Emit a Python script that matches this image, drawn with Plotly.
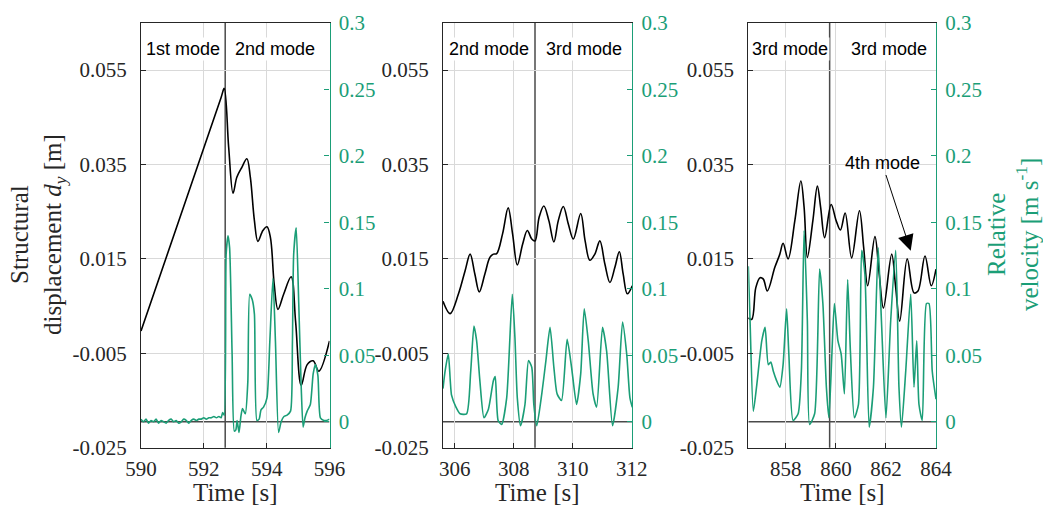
import plotly.graph_objects as go

# ---------------- data ----------------
# Panel 1 (590-596 s)
p1_disp_t = [590.00, 592.55, 592.65, 592.79, 592.93, 593.05, 593.21, 593.37, 593.48, 593.61, 593.72,
             593.88, 594.01, 594.12, 594.24, 594.36, 594.54, 594.78, 594.92, 595.10, 595.29,
             595.48, 595.66, 596.00]
p1_disp = [-0.0003, 0.0492, 0.0511, 0.0387, 0.0289, 0.0323, 0.0344, 0.0362, 0.0323, 0.0231, 0.0187,
           0.0210, 0.0218, 0.0195, 0.0096, 0.0043, 0.0075, 0.0112, 0.0018, -0.0118, -0.0074,
           -0.0066, -0.0088, -0.0024]
p1_vel_t = [590.00, 590.08, 590.16, 590.24, 590.32, 590.40, 590.48, 590.56, 590.64, 590.72,
            590.80, 590.88, 590.96, 591.04, 591.12, 591.20, 591.28, 591.36, 591.44, 591.52,
            591.60, 591.68, 591.76, 591.84, 591.92, 592.00, 592.08, 592.16, 592.24, 592.32,
            592.40, 592.48, 592.55, 592.60, 592.65, 592.71, 592.77, 592.82, 592.90, 592.97,
            593.02, 593.06, 593.12, 593.18, 593.23, 593.32, 593.40, 593.46, 593.54, 593.61,
            593.69, 593.76, 593.82, 593.90, 594.01, 594.10, 594.20, 594.28, 594.38, 594.46,
            594.55, 594.65, 594.76, 594.82, 594.86, 594.94, 595.02, 595.10, 595.16, 595.22,
            595.29, 595.39, 595.48, 595.55, 595.63, 595.71, 595.82, 595.90, 596.00]
p1_vel = [0.002, 0.000, 0.002, -0.001, 0.001, 0.000, 0.002, -0.001, 0.001, 0.000,
          -0.001, 0.001, 0.002, 0.000, 0.001, -0.001, 0.000, 0.002, 0.001, -0.001,
          0.001, 0.002, 0.001, 0.002, 0.002, 0.003, 0.002, 0.003, 0.003, 0.004,
          0.003, 0.004, 0.003, 0.007, 0.005, 0.126, 0.140, 0.131, 0.051, -0.007,
          -0.006, 0.001, -0.008, 0.004, 0.010, 0.006, 0.030, 0.096, 0.092, 0.081,
          0.001, 0.002, 0.009, 0.011, 0.018, 0.060, 0.108, 0.060, -0.008, 0.000,
          0.004, 0.005, 0.008, 0.060, 0.126, 0.146, 0.090, 0.026, -0.004, 0.003,
          0.008, 0.013, 0.036, 0.043, 0.035, 0.003, 0.001, 0.001, 0.002]

# Panel 2 (305.6-312 s)
p2_disp_t = [305.60, 305.84, 306.12, 306.35, 306.52, 306.68, 306.83, 307.02, 307.19, 307.31,
             307.42, 307.62, 307.81, 307.96, 308.12, 308.30, 308.46, 308.61, 308.72, 308.86,
             309.02, 309.19, 309.36, 309.51, 309.68, 309.85, 310.02, 310.27, 310.42, 310.58,
             310.75, 310.92, 311.09, 311.26, 311.43, 311.58, 311.71, 311.85, 312.02]
p2_disp = [0.0060, 0.0034, 0.0075, 0.0125, 0.0160, 0.0118, 0.0080, 0.0118, 0.0153, 0.0160,
           0.0161, 0.0203, 0.0258, 0.0203, 0.0137, 0.0181, 0.0210, 0.0192, 0.0188, 0.0238,
           0.0262, 0.0231, 0.0186, 0.0231, 0.0261, 0.0224, 0.0192, 0.0246, 0.0188, 0.0147,
           0.0160, 0.0188, 0.0139, 0.0100, 0.0132, 0.0165, 0.0118, 0.0076, 0.0093]
p2_vel_t = [305.60, 305.67, 305.78, 305.89, 306.04, 306.18, 306.40, 306.54, 306.65, 306.74,
            306.85, 306.99, 307.14, 307.31, 307.37, 307.47, 307.59, 307.76, 307.95, 308.04,
            308.12, 308.23, 308.38, 308.50, 308.61, 308.68, 308.78, 308.95, 309.09, 309.23,
            309.36, 309.47, 309.62, 309.81, 309.96, 310.13, 310.27, 310.39, 310.53, 310.69,
            310.81, 311.01, 311.15, 311.35, 311.54, 311.69, 311.83, 311.94, 312.02]
p2_vel = [0.025, 0.038, 0.051, 0.020, 0.011, 0.006, 0.006, 0.038, 0.072, 0.061,
          0.031, 0.003, 0.0095, 0.031, 0.034, 0.001, -0.002, 0.018, 0.096, 0.063,
          0.018, -0.003, 0.013, 0.046, 0.041, 0.013, -0.003, 0.021, 0.046, 0.071,
          0.041, 0.021, 0.016, 0.062, 0.041, 0.013, 0.036, 0.085, 0.060, 0.021,
          0.011, 0.071, 0.053, -0.003, 0.026, 0.075, 0.051, 0.018, 0.011]

# Panel 3 (856.5-864 s)
p3_disp_t = [856.50, 856.64, 856.80, 856.97, 857.10, 857.26, 857.56, 857.76, 857.89, 858.09,
             858.36, 858.60, 858.73, 858.86, 859.08, 859.26, 859.39, 859.55, 859.81, 860.01,
             860.18, 860.37, 860.63, 860.94, 861.11, 861.27, 861.56, 861.73, 861.90, 862.23,
             862.39, 862.55, 862.85, 863.12, 863.28, 863.56, 863.81, 864.00]
p3_disp = [0.0025, 0.0022, 0.0089, 0.0110, 0.0107, 0.0082, 0.0132, 0.0160, 0.0183, 0.0150,
           0.0231, 0.0315, 0.0259, 0.0153, 0.0231, 0.0304, 0.0259, 0.0195, 0.0265, 0.0231,
           0.0211, 0.0247, 0.0152, 0.0252, 0.0174, 0.0093, 0.0197, 0.0118, 0.0046, 0.0160,
           0.0089, 0.0018, 0.0150, 0.0078, 0.0082, 0.0156, 0.0093, 0.0128]
p3_vel_t = [856.50, 856.57, 856.70, 856.84, 857.04, 857.17, 857.30, 857.40, 857.50, 857.63,
            857.76, 857.89, 858.03, 858.12, 858.29, 858.49, 858.62, 858.73, 858.86, 858.95,
            859.15, 859.35, 859.48, 859.62, 859.72, 859.84, 859.94, 860.08, 860.21, 860.34,
            860.47, 860.58, 860.74, 860.90, 861.03, 861.16, 861.33, 861.50, 861.69, 861.82,
            862.00, 862.19, 862.39, 862.52, 862.62, 862.79, 862.99, 863.12, 863.23, 863.32,
            863.45, 863.62, 863.72, 863.85, 864.00]
p3_vel = [0.117, 0.076, 0.008, 0.028, 0.061, 0.071, 0.043, 0.045, 0.038, 0.031,
          0.026, 0.043, 0.085, 0.051, 0.001, 0.006, 0.038, 0.144, 0.076, -0.002,
          0.006, 0.115, 0.089, 0.026, 0.003, 0.051, 0.089, 0.061, 0.051, 0.021,
          0.107, 0.053, 0.003, 0.013, 0.129, 0.111, -0.004, 0.026, 0.131, 0.076,
          0.003, 0.076, 0.129, 0.026, -0.004, 0.038, 0.096, 0.026, 0.061, 0.013,
          0.001, 0.089, 0.089, 0.038, 0.017]

mode_switch_t = [592.68, 308.72, 859.75]
mode_labels = [["1st mode", "2nd mode"], ["2nd mode", "3rd mode"], ["3rd mode", "3rd mode"]]
mode_label_t = [[591.34, 594.26], [307.16, 310.38], [858.15, 862.11]]
x_ranges = [[590.0, 596.0], [305.6, 312.02], [856.5, 864.0]]
x_ticks = [[590, 592, 594, 596], [306, 308, 310, 312], [858, 860, 862, 864]]
disp_ticks = [-0.025, -0.005, 0.015, 0.035, 0.055]
disp_ticktext = ["-0.025", "-0.005", "0.015", "0.035", "0.055"]
vel_ticks = [0, 0.05, 0.1, 0.15, 0.2, 0.25, 0.3]
vel_ticktext = ["0", "0.05", "0.1", "0.15", "0.2", "0.25", "0.3"]
fourth_mode_tip = (862.99, 0.0167)
fourth_mode_text = (861.85, 0.0352)

# ---------------- figure ----------------
W, H = 1043, 508
GREEN = "#1b9e77"
DARK = "#262626"
GRID = "#d9d9d9"
SERIF = "Liberation Serif"
SANS = "Liberation Sans"

panels = [(p1_disp_t, p1_disp, p1_vel_t, p1_vel),
          (p2_disp_t, p2_disp, p2_vel_t, p2_vel),
          (p3_disp_t, p3_disp, p3_vel_t, p3_vel)]
xdom_px = [(141.0, 329.5), (443.0, 632.3), (748.3, 936.0)]
top_px, bot_px = 22.8, 447.7
ydom = [1 - bot_px / H, 1 - top_px / H]

fig = go.Figure()
layout = {}
shapes = []
annotations = []

for i, (dt, dv, vt, vv) in enumerate(panels):
    xa = "x" if i == 0 else f"x{i + 1}"
    yl = "y" if i == 0 else f"y{2 * i + 1}"
    yr = f"y{2 * i + 2}"
    fig.add_trace(go.Scatter(x=dt, y=dv, xaxis=xa, yaxis=yl, mode="lines",
                             line=dict(color="black", width=1.6, shape="spline", smoothing=1.0),
                             showlegend=False, hoverinfo="skip"))
    fig.add_trace(go.Scatter(x=vt, y=vv, xaxis=xa, yaxis=yr, mode="lines",
                             line=dict(color=GREEN, width=1.6, shape="spline", smoothing=0.6),
                             showlegend=False, hoverinfo="skip"))

    layout["xaxis" + ("" if i == 0 else str(i + 1))] = dict(
        domain=[xdom_px[i][0] / W, xdom_px[i][1] / W], range=x_ranges[i], anchor=yl,
        tickvals=x_ticks[i], ticktext=[str(v) for v in x_ticks[i]],
        ticks="inside", ticklen=5, tickcolor=DARK, showline=True, linecolor=DARK,
        linewidth=1.2, mirror=True, showgrid=True, gridcolor=GRID, gridwidth=1,
        zeroline=False, automargin=False,
        tickfont=dict(family=SERIF, size=21, color=DARK), ticklabelstandoff=2)
    layout["yaxis" + ("" if i == 0 else str(2 * i + 1))] = dict(
        domain=ydom, range=[-0.025, 0.065], anchor=xa,
        tickvals=disp_ticks, ticktext=disp_ticktext,
        ticks="inside", ticklen=5, tickcolor=DARK, showline=True, linecolor=DARK,
        linewidth=1.2, showgrid=True, gridcolor=GRID, gridwidth=1, zeroline=False,
        automargin=False,
        tickfont=dict(family=SERIF, size=21, color=DARK), ticklabelstandoff=9)
    layout[f"yaxis{2 * i + 2}"] = dict(
        overlaying=yl, side="right", anchor=xa, range=[-0.0195, 0.3002],
        tickvals=vel_ticks, ticktext=vel_ticktext,
        ticks="inside", ticklen=5, tickcolor=GREEN, showline=True, linecolor=GREEN,
        linewidth=1.2, showgrid=False, zeroline=False, automargin=False,
        tickfont=dict(family=SERIF, size=21, color=GREEN), ticklabelstandoff=4)

    shapes.append(dict(type="line", xref=xa, x0=x_ranges[i][0], x1=x_ranges[i][1],
                       yref=yr, y0=0, y1=0,
                       line=dict(color="#4a4a4a", width=1.5), layer="below"))
    shapes.append(dict(type="line", xref=xa, x0=mode_switch_t[i], x1=mode_switch_t[i],
                       yref="paper", y0=ydom[0], y1=ydom[1],
                       line=dict(color="#4a4a4a", width=1.5), layer="below"))
    for j in range(2):
        annotations.append(dict(xref=xa, yref="paper", x=mode_label_t[i][j], y=1 - 49 / H,
                                xanchor="center", yanchor="middle",
                                text=mode_labels[i][j], showarrow=False, bgcolor="white",
                                borderpad=1, font=dict(family=SANS, size=18, color="black")))
    annotations.append(dict(xref="paper", yref="paper",
                            x=(xdom_px[i][0] + xdom_px[i][1]) / 2 / W, y=1 - 492 / H,
                            xanchor="center", yanchor="middle",
                            text="Time [s]", showarrow=False,
                            font=dict(family=SERIF, size=25, color=DARK)))

annotations.append(dict(xref="x3", yref="y5", x=fourth_mode_tip[0], y=fourth_mode_tip[1],
                        axref="x3", ayref="y5", ax=fourth_mode_text[0], ay=fourth_mode_text[1],
                        text="4th mode", showarrow=True, arrowhead=2, arrowsize=3.2,
                        arrowwidth=1, arrowcolor="black",
                        font=dict(family=SANS, size=18, color="black")))
annotations.append(dict(xref="paper", yref="paper", x=38 / W, y=1 - 235 / H,
                        xanchor="center", yanchor="middle",
                        text="Structural<br>displacement <i>d</i><sub><i>y</i></sub> [m]",
                        textangle=-90, showarrow=False,
                        font=dict(family=SERIF, size=25, color=DARK)))
annotations.append(dict(xref="paper", yref="paper", x=1013 / W, y=1 - 235 / H,
                        xanchor="center", yanchor="middle",
                        text="Relative<br>velocity [m s<sup>-1</sup>]",
                        textangle=-90, showarrow=False,
                        font=dict(family=SERIF, size=25, color=GREEN)))

fig.update_layout(width=W, height=H, margin=dict(l=0, r=0, t=0, b=0, autoexpand=False),
                  paper_bgcolor="white", plot_bgcolor="white",
                  shapes=shapes, annotations=annotations, showlegend=False, **layout)
fig.write_html("out.html")
